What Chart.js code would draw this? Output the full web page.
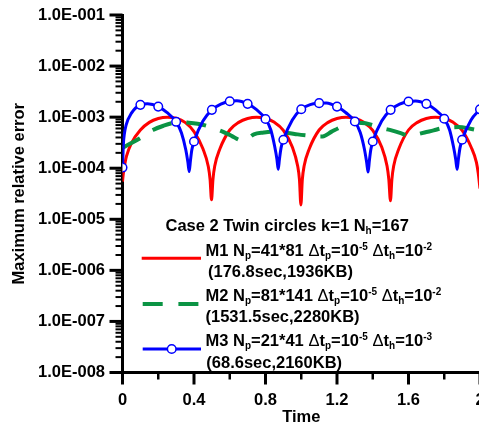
<!DOCTYPE html>
<html><head><meta charset="utf-8">
<script src="https://cdn.jsdelivr.net/npm/chart.js@4.4.1/dist/chart.umd.min.js"></script>
<style>
html,body{margin:0;padding:0;background:#fff;overflow:hidden;width:479px;height:428px;}
#wrap{position:relative;width:490px;height:428px;}
canvas{position:absolute;left:0;top:0;}
.lg{position:absolute;font:bold 16.5px "Liberation Sans",Arial,sans-serif;color:#000;white-space:nowrap;line-height:15px;}
.sb{font-size:10px;position:relative;top:3px;line-height:0;}
.sp{font-size:10px;position:relative;top:-6px;line-height:0;}
.dl{font-weight:normal;}
</style></head>
<body><div id="wrap"><canvas id="c" width="490" height="428"></canvas>
<div class="lg" style="left:165.5px;top:218.3px">Case 2 Twin circles k=1 N<span class="sb">h</span>=167</div>
<div class="lg" style="left:205.5px;top:242.8px">M1 N<span class="sb">p</span>=41*81 <span class="dl">Δ</span>t<span class="sb">p</span>=10<span class="sp">-5</span> <span class="dl">Δ</span>t<span class="sb">h</span>=10<span class="sp">-2</span></div>
<div class="lg" style="left:208px;top:264.3px">(176.8sec,1936KB)</div>
<div class="lg" style="left:205.5px;top:287.8px">M2 N<span class="sb">p</span>=81*141 <span class="dl">Δ</span>t<span class="sb">p</span>=10<span class="sp">-5</span> <span class="dl">Δ</span>t<span class="sb">h</span>=10<span class="sp">-2</span></div>
<div class="lg" style="left:205.5px;top:308.5px">(1531.5sec,2280KB)</div>
<div class="lg" style="left:205.5px;top:332.5px">M3 N<span class="sb">p</span>=21*41 <span class="dl">Δ</span>t<span class="sb">p</span>=10<span class="sp">-5</span> <span class="dl">Δ</span>t<span class="sb">h</span>=10<span class="sp">-3</span></div>
<div class="lg" style="left:206.3px;top:354.5px">(68.6sec,2160KB)</div>
</div>
<script>
// ---- data ----
const m1T = [0,0.005,0.01,0.022,0.05,0.1,0.15,0.2,0.25,0.3,0.35,0.4,0.45,0.48,0.49,0.498,
  0.506,0.516,0.545,0.6,0.65,0.7,0.75,0.8,0.85,0.9,0.95,0.98,0.99,0.998,
  1.006,1.016,1.045,1.1,1.15,1.2,1.25,1.3,1.35,1.4,1.45,1.48,1.49,1.499,
  1.507,1.517,1.546,1.6,1.65,1.7,1.75,1.8,1.85,1.9,1.95,1.98,1.99,2.0];
const m1V = [5.5e-5,8e-5,1.05e-4,1.7e-4,3.1e-4,5.6e-4,7.9e-4,9.4e-4,1.0e-3,9.5e-4,7.9e-4,5.2e-4,2.4e-4,1.08e-4,6e-5,2.4e-5,
  6e-5,1.1e-4,2.4e-4,5.6e-4,7.9e-4,9.4e-4,1.0e-3,9.4e-4,7.9e-4,5.5e-4,2.6e-4,1.1e-4,6e-5,1.9e-5,
  6e-5,1.1e-4,2.4e-4,5.6e-4,7.9e-4,9.4e-4,1.0e-3,9.4e-4,7.9e-4,5.5e-4,2.6e-4,1.1e-4,6e-5,2.3e-5,
  6e-5,1.1e-4,2.4e-4,5.6e-4,7.9e-4,9.4e-4,1.0e-3,9.4e-4,7.9e-4,5.5e-4,2.6e-4,1.3e-4,8e-5,4e-5];

const m2T = [0,0.05,0.1,0.17,0.23,0.29,0.33,0.37,0.42,0.47,0.52,0.56,0.61,0.66,0.68,0.735,0.79,0.84,0.925,0.98,
  1.03,1.09,1.12,1.17,1.225,1.27,1.31,1.36,1.42,1.46,1.505,1.56,1.61,1.65,1.69,1.74,1.79,1.84,1.88,1.94,2.0];
const m2V = [2.5e-4,3.1e-4,3.9e-4,5.6e-4,6.8e-4,7.8e-4,8.0e-4,7.8e-4,7.4e-4,6.8e-4,5.9e-4,5.2e-4,4.3e-4,3.5e-4,3.45e-4,4.6e-4,5.0e-4,5.2e-4,4.9e-4,4.6e-4,
  4.4e-4,4.2e-4,4.2e-4,5.2e-4,6.5e-4,7.4e-4,7.8e-4,7.6e-4,6.6e-4,6.0e-4,5.5e-4,4.8e-4,4.2e-4,4.6e-4,5.0e-4,5.5e-4,6.1e-4,6.3e-4,6.4e-4,6.0e-4,5.4e-4];

const m3T = [0,0.005,0.01,0.02,0.05,0.1,0.14,0.2,0.25,0.3,0.33,0.354,0.366,0.373,0.38,0.388,0.4,0.45,0.5,0.55,0.6,0.64,0.7,0.75,0.8,0.83,0.852,0.864,0.871,0.878,0.887,0.9,
  0.95,1.0,1.05,1.1,1.14,1.2,1.25,1.3,1.33,1.354,1.366,1.374,1.381,1.389,1.4,1.45,1.5,1.55,1.6,1.64,1.7,1.75,1.8,1.83,1.852,1.864,1.872,1.879,1.888,1.9,1.95,2.0];
const m3V = [1.03e-4,3.0e-4,4.6e-4,7.0e-4,1.2e-3,1.74e-3,1.82e-3,1.61e-3,1.22e-3,8.1e-4,4.9e-4,2.3e-4,1.3e-4,8.6e-5,1.4e-4,2.3e-4,3.33e-4,8.4e-4,1.39e-3,1.8e-3,2.05e-3,2.1e-3,1.82e-3,1.4e-3,9.2e-4,5.6e-4,2.6e-4,1.5e-4,9.5e-5,1.5e-4,2.5e-4,3.6e-4,
  8.8e-4,1.43e-3,1.76e-3,1.88e-3,1.9e-3,1.61e-3,1.22e-3,8.2e-4,5.0e-4,2.3e-4,1.3e-4,8.4e-5,1.4e-4,2.3e-4,3.33e-4,8.4e-4,1.39e-3,1.8e-3,2.02e-3,2.08e-3,1.82e-3,1.4e-3,9.3e-4,5.6e-4,2.6e-4,1.5e-4,9.5e-5,1.5e-4,2.5e-4,3.6e-4,8.8e-4,1.42e-3];
const m3MarkerStep = 0.1;

const xTickValues = [0,0.4,0.8,1.2,1.6,2.0];
const xTickLabels = ['0','0.4','0.8','1.2','1.6','2'];
const xMinorTicks = [0.2,0.6,1.0,1.4,1.8];
const yTickValues = [1e-8,1e-7,1e-6,1e-5,1e-4,1e-3,1e-2,1e-1];
const yTickLabels = ['1.0E-008','1.0E-007','1.0E-006','1.0E-005','1.0E-004','1.0E-003','1.0E-002','1.0E-001'];
const yMinorMultipliers = [2,3,4,5,6,7,8,9];

const FONT = '"Liberation Sans", Arial, sans-serif';
const RED = '#ff0000', GREEN = '#0b9444', BLUE = '#0000ff';
const pts = (T,V) => T.map((t,i)=>({x:t,y:V[i]}));

const axesPlugin = {
  id: 'axesTicks',
  beforeDatasetsDraw(chart){
    const {ctx, chartArea:a, scales:{x,y}} = chart;
    ctx.save();
    ctx.strokeStyle = '#000';
    const seg = (x1,y1,x2,y2)=>{ctx.beginPath();ctx.moveTo(x1,y1);ctx.lineTo(x2,y2);ctx.stroke();};
    ctx.lineWidth = 3;
    seg(a.left, a.top-1, a.left, a.bottom+1.5);
    seg(a.left-1.5, a.bottom, a.right+5, a.bottom);
    ctx.lineWidth = 3;
    yTickValues.forEach(v=>{const p=y.getPixelForValue(v); seg(a.left-13,p,a.left,p);});
    ctx.lineWidth = 2;
    yTickValues.slice(0,-1).forEach(v=>yMinorMultipliers.forEach(m=>{const p=y.getPixelForValue(v*m); seg(a.left-7,p,a.left,p);}));
    ctx.lineWidth = 3;
    xTickValues.forEach(v=>{const p=x.getPixelForValue(v); seg(p,a.bottom,p,a.bottom+12);});
    ctx.lineWidth = 2.5;
    xMinorTicks.forEach(v=>{const p=x.getPixelForValue(v); seg(p,a.bottom,p,a.bottom+7);});
    ctx.restore();
  },
  afterDraw(chart){
    const ctx = chart.ctx;
    ctx.save();
    ctx.lineCap = 'butt';
    ctx.strokeStyle = RED; ctx.lineWidth = 3;
    ctx.beginPath(); ctx.moveTo(141.7,258.3); ctx.lineTo(201,258.3); ctx.stroke();
    ctx.strokeStyle = GREEN; ctx.lineWidth = 4; ctx.setLineDash([20,15.7]);
    ctx.beginPath(); ctx.moveTo(142.7,304); ctx.lineTo(199,304); ctx.stroke();
    ctx.setLineDash([]);
    ctx.strokeStyle = BLUE; ctx.lineWidth = 3;
    ctx.beginPath(); ctx.moveTo(142.7,349); ctx.lineTo(201,349); ctx.stroke();
    ctx.fillStyle = '#fff'; ctx.lineWidth = 1.5;
    ctx.beginPath(); ctx.arc(171.7,349,4.3,0,Math.PI*2); ctx.fill(); ctx.stroke();
    ctx.restore();
  }
};

new Chart(document.getElementById('c'), {
  type: 'line',
  data: { datasets: [
    { label:'M1', data: pts(m1T,m1V), borderColor: RED, borderWidth: 3, pointRadius: 0,
      cubicInterpolationMode:'monotone', order: 3 },
    { label:'M2', data: pts(m2T,m2V), borderColor: GREEN, borderWidth: 4, borderDash:[20,15],
      pointRadius: 0, cubicInterpolationMode:'monotone', order: 2 },
    { label:'M3', data: pts(m3T,m3V), borderColor: BLUE, borderWidth: 3,
      pointRadius: c => { const r = c.raw.x / m3MarkerStep; return Math.abs(r - Math.round(r)) < 1e-6 ? 4.3 : 0; },
      pointBorderWidth: 1.5, pointBorderColor: BLUE, pointBackgroundColor: '#fff',
      cubicInterpolationMode:'monotone', order: 1 }
  ]},
  options: {
    responsive: false, animation: false, devicePixelRatio: 1,
    layout: { padding: { left: 0, top: 15, right: 10, bottom: 0 } },
    plugins: { legend: { display: false }, tooltip: { enabled: false } },
    scales: {
      x: {
        type: 'linear', min: 0, max: 2,
        grid: { display: false, drawTicks: false }, border: { display: false },
        afterBuildTicks: s => { s.ticks = xTickValues.map(v => ({ value: v })); },
        afterFit: s => { s.height = 55.5; s.paddingLeft = 0; s.paddingRight = 0; },
        ticks: { autoSkip: false, maxRotation: 0, padding: 17.6, color: '#000',
          font: { family: FONT, size: 16.5, weight: 'bold' }, callback: (v,i) => xTickLabels[i] },
        title: { display: true, text: 'Time', color: '#000',
          font: { family: FONT, size: 16.5, weight: 'bold' }, padding: { top: 0, bottom: 0.3 } }
      },
      y: {
        type: 'logarithmic', min: 1e-8, max: 1e-1,
        grid: { display: false, drawTicks: false }, border: { display: false },
        afterBuildTicks: s => { s.ticks = yTickValues.map(v => ({ value: v })); },
        afterFit: s => { s.width = 122.5; s.paddingTop = 0; s.paddingBottom = 0; },
        ticks: { autoSkip: false, padding: 17.5, color: '#000',
          font: { family: FONT, size: 16.5, weight: 'bold' }, callback: (v,i) => yTickLabels[i] },
        title: { display: true, text: 'Maximum relative error', color: '#000',
          font: { family: FONT, size: 16.5, weight: 'bold' }, padding: { top: 9.4, bottom: 0 } }
      }
    }
  },
  plugins: [axesPlugin]
});
</script>
</body></html>
